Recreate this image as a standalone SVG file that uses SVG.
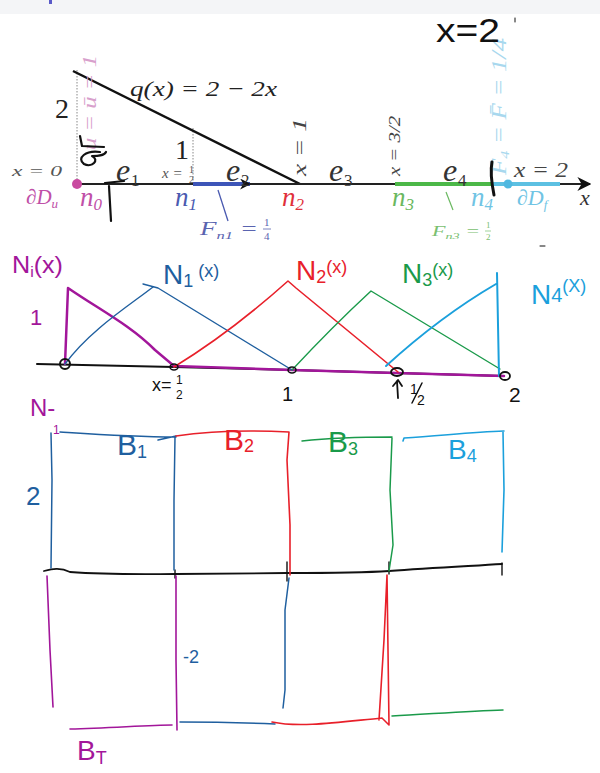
<svg xmlns="http://www.w3.org/2000/svg" width="600" height="773" viewBox="0 0 600 773">
<defs>
<style>
.tx{font-family:"Liberation Serif",serif;font-style:italic;}
.rm{font-family:"Liberation Serif",serif;}
.hw{font-family:"Liberation Sans",sans-serif;font-weight:normal;}
.ink{fill:none;stroke-linecap:round;stroke-linejoin:round;}
</style>
<marker id="ah" viewBox="0 0 10 10" refX="9" refY="5" markerWidth="14" markerHeight="14" markerUnits="userSpaceOnUse" orient="auto"><path d="M0,0 L10,5 L0,10 L3,5 z" fill="#111"/></marker>
<marker id="ahb" viewBox="0 0 10 10" refX="9" refY="5" markerWidth="11" markerHeight="11" markerUnits="userSpaceOnUse" orient="auto"><path d="M0,0 L10,5 L0,10 L3,5 z" fill="#111"/></marker>
</defs>
<rect width="600" height="773" fill="#fff"/>
<rect width="600" height="14" fill="#f4f5f7"/>
<rect x="49" y="0" width="3" height="4" fill="#5a5ac8"/>

<!-- top printed figure -->
<g id="figure-top">
<line x1="77" y1="70" x2="77" y2="184" stroke="#888" stroke-width="1" stroke-dasharray="1.5,1.5"/>
<line x1="193" y1="128" x2="193" y2="184" stroke="#888" stroke-width="1" stroke-dasharray="1.5,1.5"/>
<line x1="73" y1="71" x2="300" y2="184" stroke="#111" stroke-width="2.5"/>
<line x1="77" y1="184" x2="590" y2="184" stroke="#222" stroke-width="2" marker-end="url(#ah)"/>
<line x1="193" y1="184" x2="250" y2="184" stroke="#3d55b8" stroke-width="4" marker-end="url(#ahb)"/>
<line x1="395" y1="184" x2="492" y2="184" stroke="#4cb848" stroke-width="4"/>
<line x1="492" y1="184" x2="560" y2="184" stroke="#5cc0e2" stroke-width="4"/>
<circle cx="77" cy="184" r="5" fill="#c94aa0"/>
<circle cx="508" cy="184" r="4.5" fill="#4fb8e0"/>
<line x1="218" y1="190" x2="228" y2="221" stroke="#4a5ab0" stroke-width="1.3"/>
<line x1="446" y1="192" x2="453" y2="210" stroke="#6ab860" stroke-width="1.2"/>
<text class="tx" x="130" y="96" font-size="22" fill="#222" textLength="147" lengthAdjust="spacingAndGlyphs">q(x) = 2 − 2x</text>
<text class="rm" x="55" y="118" font-size="28" fill="#222">2</text>
<text class="rm" x="175" y="159" font-size="28" fill="#222">1</text>
<text class="tx" x="12" y="176" font-size="15" fill="#555" textLength="50" lengthAdjust="spacingAndGlyphs">x = 0</text>
<text class="tx" x="162" y="178" font-size="15" fill="#555">x =</text>
<text class="rm" x="189" y="173" font-size="10" fill="#555">1</text>
<text class="rm" x="189" y="183" font-size="10" fill="#555">2</text>
<text class="tx" x="116" y="181" font-size="32" fill="#333">e</text><text class="rm" x="131" y="186" font-size="17" fill="#333">1</text>
<text class="tx" x="226" y="181" font-size="32" fill="#333">e</text><text class="rm" x="241" y="186" font-size="17" fill="#333">2</text>
<text class="tx" x="329" y="181" font-size="32" fill="#333">e</text><text class="rm" x="344" y="186" font-size="17" fill="#333">3</text>
<text class="tx" x="443" y="181" font-size="32" fill="#333">e</text><text class="rm" x="458" y="186" font-size="17" fill="#333">4</text>
<text class="tx" x="26" y="204" font-size="21" fill="#c050a8">∂D<tspan font-size="13" dy="4">u</tspan></text>
<text class="tx" x="80" y="206" font-size="27" fill="#c050a8">n<tspan class="rm" font-size="17" dy="4">0</tspan></text>
<text class="tx" x="175" y="206" font-size="27" fill="#4a5ab0">n<tspan class="rm" font-size="17" dy="4">1</tspan></text>
<text class="tx" x="282" y="206" font-size="27" fill="#e0303a">n<tspan class="rm" font-size="17" dy="4">2</tspan></text>
<text class="tx" x="392" y="206" font-size="27" fill="#6ab860">n<tspan class="rm" font-size="17" dy="4">3</tspan></text>
<text class="tx" x="471" y="206" font-size="27" fill="#70c4e4">n<tspan class="rm" font-size="17" dy="4">4</tspan></text>
<text class="tx" x="517" y="205" font-size="22" fill="#70c4e4">∂D<tspan font-size="13" dy="4">f</tspan></text>
<text class="tx" x="514" y="177" font-size="20" fill="#444" textLength="54" lengthAdjust="spacingAndGlyphs">x = 2</text>
<text class="tx" x="580" y="205" font-size="22" fill="#333">x</text>
<text class="tx" x="200" y="235" font-size="18" fill="#5a64b0" textLength="58" lengthAdjust="spacingAndGlyphs">F<tspan font-size="11" dy="4">n1</tspan><tspan dy="-4"> =</tspan></text>
<text class="rm" x="264" y="226" font-size="11" fill="#5a64b0">1</text>
<text class="rm" x="264" y="240" font-size="11" fill="#5a64b0">4</text>
<line x1="263" y1="229" x2="271" y2="229" stroke="#5a64b0" stroke-width="0.8"/>
<text class="tx" x="432" y="236" font-size="14" fill="#7ac070" textLength="48" lengthAdjust="spacingAndGlyphs">F<tspan font-size="9" dy="3">n3</tspan><tspan dy="-3"> =</tspan></text>
<text class="rm" x="486" y="228" font-size="9" fill="#7ac070">1</text>
<text class="rm" x="486" y="240" font-size="9" fill="#7ac070">2</text>
<line x1="485" y1="231" x2="491" y2="231" stroke="#7ac070" stroke-width="0.7"/>
<text class="tx" transform="translate(96,150) rotate(-90)" font-size="19" fill="#d8a0cc" textLength="95" lengthAdjust="spacingAndGlyphs">u = ū = 1</text>
<text class="tx" transform="translate(306,176) rotate(-90)" font-size="19" fill="#444" textLength="58" lengthAdjust="spacingAndGlyphs">x = 1</text>
<text class="tx" transform="translate(400,176) rotate(-90)" font-size="17" fill="#444" textLength="60" lengthAdjust="spacingAndGlyphs">x = 3/2</text>
<text class="tx" transform="translate(506,175) rotate(-90)" font-size="20" fill="#a8d8ee" textLength="137" lengthAdjust="spacingAndGlyphs">F̄<tspan font-size="12" dy="3">4</tspan><tspan dy="-3"> = F̄ = 1/4</tspan></text>
</g>

<!-- handwritten marks on top figure -->
<g id="marks-top" class="ink" stroke="#111" stroke-width="2.2">
<path d="M80,136 L82,146 L104,147"/>
<path d="M100,152 C86,150 76,158 84,164 C92,168 100,160 92,156 C98,156 104,156 106,152"/>
<path d="M105,183 L124,181"/>
<path d="M109,186 L111,221"/>
<path d="M492,162 C490,172 492,185 494,195" stroke-width="3"/>
<path d="M515,18 L515,22" stroke-width="1"/>
</g>
<text class="hw" x="436" y="42" font-size="34" fill="#111" textLength="64" lengthAdjust="spacingAndGlyphs">x=2</text>

<!-- shape functions plot -->
<g id="shape-functions">
<path class="ink" d="M37,364 L174,367 L292,370 L396,373 L504,376" stroke="#111" stroke-width="2"/>
<path class="ink" d="M65,364 L68,288 C100,310 130,325 155,350 L174,366 L292,370 L396,373 L504,376" stroke="#a2169a" stroke-width="2.5"/>
<path class="ink" d="M65,364 C90,330 130,305 153,287 M143,284 L158,288 L292,370" stroke="#1f5f9f" stroke-width="1.4"/>
<path class="ink" d="M174,367 C210,345 250,315 288,281 L296,288 L398,372" stroke="#e8202a" stroke-width="1.6"/>
<path class="ink" d="M292,370 C320,340 345,315 371,291 L500,369" stroke="#1a9a4a" stroke-width="1.4"/>
<path class="ink" d="M386,366 C420,335 460,305 496,284 M497,273 L499,376" stroke="#1ba0dc" stroke-width="2"/>
<g class="ink" stroke="#111" stroke-width="2">
<circle cx="65" cy="364" r="5"/>
<ellipse cx="174" cy="367" rx="4" ry="3" stroke-width="1.5"/>
<ellipse cx="292" cy="370" rx="4" ry="3" stroke-width="1.5"/>
<ellipse cx="397" cy="372" rx="6" ry="4" stroke-width="1.8"/>
<ellipse cx="505" cy="376" rx="5" ry="4" stroke-width="1.8"/>
<path d="M398,398 L397,381 M393,386 L398,380 L402,386" stroke-width="1.8"/>
</g>
<text class="hw" x="12" y="273" font-size="24" fill="#a2169a" textLength="51" lengthAdjust="spacingAndGlyphs">N<tspan font-size="15" dy="4">i</tspan><tspan dy="-4">(x)</tspan></text>
<text class="hw" x="30" y="325" font-size="22" fill="#a2169a">1</text>
<text class="hw" x="163" y="284" font-size="28" fill="#1f5f9f">N<tspan font-size="18" dy="3">1</tspan><tspan font-size="18" dy="-10"> (x)</tspan></text>
<text class="hw" x="296" y="280" font-size="28" fill="#e8202a">N<tspan font-size="18" dy="3">2</tspan><tspan font-size="18" dy="-10">(x)</tspan></text>
<text class="hw" x="402" y="283" font-size="28" fill="#1a9a4a">N<tspan font-size="18" dy="3">3</tspan><tspan font-size="18" dy="-10">(x)</tspan></text>
<text class="hw" x="531" y="304" font-size="28" fill="#1ba0dc">N<tspan font-size="20" dy="-2">4</tspan><tspan font-size="18" dy="-10">(X)</tspan></text>
<text class="hw" x="152" y="391" font-size="18" fill="#111">x=</text>
<text class="hw" x="176" y="384" font-size="12" fill="#111">1</text>
<text class="hw" x="176" y="399" font-size="12" fill="#111">2</text>
<text class="hw" x="282" y="401" font-size="20" fill="#111">1</text>
<text class="hw" x="410" y="394" font-size="14" fill="#111">1</text>
<text class="hw" x="417" y="405" font-size="14" fill="#111">2</text>
<path class="ink" d="M422,383 L412,403" stroke="#111" stroke-width="1.5"/>
<text class="hw" x="509" y="402" font-size="21" fill="#111">2</text>
<path class="ink" d="M540,246 L545,246" stroke="#111" stroke-width="1"/>
</g>

<!-- B matrix plot -->
<g id="b-functions">
<path class="ink" d="M44,571 C52,569 60,567 70,572 C110,575 150,574 176,574 L287,573 C320,573 360,573 389,571 C430,568 470,566 502,564" stroke="#111" stroke-width="1.8"/>
<g class="ink" stroke="#111" stroke-width="1.4">
<path d="M175,570 L175,578"/><path d="M287,562 L287,581"/><path d="M389,562 L389,574"/><path d="M502,563 L502,575"/>
</g>
<path class="ink" d="M51,433 L52,480 L51,568 M60,432 C90,434 130,437 176,437 M158,440 L176,436 M175,437 L174,500 L174,570" stroke="#1f5f9f" stroke-width="1.5"/>
<path class="ink" d="M47,576 L50,650 L53,707 M176,576 L176,660 L177,730 M70,729 C110,728 150,725 172,725" stroke="#a2169a" stroke-width="1.6"/>
<path class="ink" d="M176,436 C210,431 250,430 289,432 L287,460 L290,525 L290,575" stroke="#e8202a" stroke-width="1.6"/>
<path class="ink" d="M289,578 L285,610 L285,690 L283,708 M180,722 C220,722 250,723 275,724" stroke="#1f5f9f" stroke-width="1.5"/>
<path class="ink" d="M302,441 C330,438 365,437 392,437 M392,438 L390,490 L393,545 L389,571" stroke="#1a9a4a" stroke-width="1.5"/>
<path class="ink" d="M272,722 C300,728 340,722 382,718 L389,725 L387,575 L384,640 L379,720" stroke="#e8202a" stroke-width="1.6"/>
<path class="ink" d="M403,441 L404,438 C440,436 470,432 504,431 M503,432 L504,490 L502,552" stroke="#1ba0dc" stroke-width="1.6"/>
<path class="ink" d="M392,716 C430,714 470,711 503,710" stroke="#1a9a4a" stroke-width="1.5"/>
<text class="hw" x="30" y="416" font-size="24" fill="#a2169a">N-</text>
<text class="hw" x="53" y="434" font-size="12" fill="#a2169a">1</text>
<text class="hw" x="117" y="455" font-size="30" fill="#1f5f9f">B<tspan font-size="18" dy="3">1</tspan></text>
<text class="hw" x="224" y="450" font-size="30" fill="#e8202a">B<tspan font-size="18" dy="2">2</tspan></text>
<text class="hw" x="328" y="452" font-size="30" fill="#1a9a4a">B<tspan font-size="18" dy="3">3</tspan></text>
<text class="hw" x="448" y="459" font-size="28" fill="#1ba0dc">B<tspan font-size="18" dy="3">4</tspan></text>
<text class="hw" x="26" y="505" font-size="26" fill="#1f5f9f">2</text>
<text class="hw" x="183" y="663" font-size="18" fill="#1f5f9f">-2</text>
<text class="hw" x="77" y="760" font-size="28" fill="#a2169a">B<tspan font-size="18" dy="4">T</tspan></text>
</g>
</svg>
